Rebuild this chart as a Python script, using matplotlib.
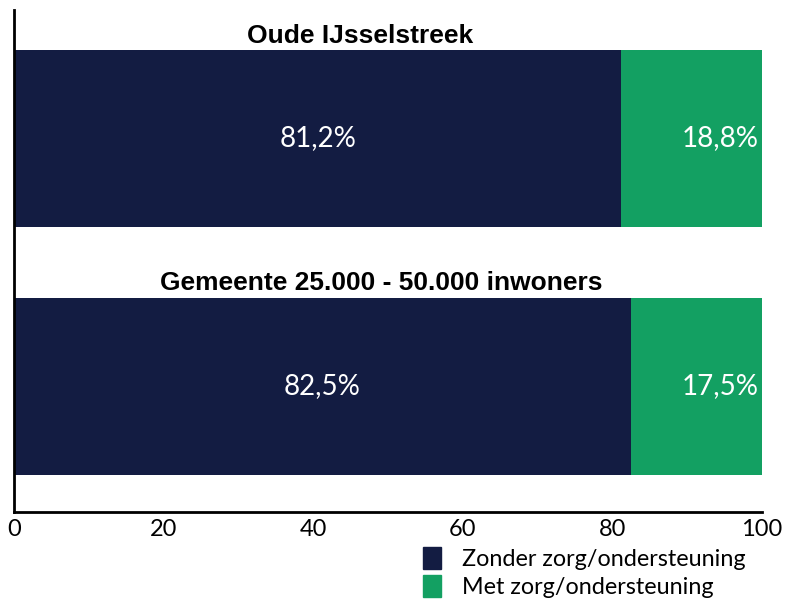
import matplotlib.pyplot as plt
from matplotlib.patches import Patch

# gegevens
groepen = ['Oude IJsselstreek', 'Gemeente 25.000 - 50.000 inwoners']
zonder = [81.2, 82.5]
met = [18.8, 17.5]
reeksen = ['Zonder zorg/ondersteuning', 'Met zorg/ondersteuning']
kleuren = ['#131c42', '#13a062']
xticks = [0, 20, 40, 60, 80, 100]

fig = plt.figure(figsize=(7.86, 6.04), dpi=100)
ax = fig.add_axes([0.0178, 0.1523, 0.9517, 0.8311])

ypos = [1, 0]
hoogte = 0.715
ax.barh(ypos, zonder, height=hoogte, color=kleuren[0])
ax.barh(ypos, met, left=zonder, height=hoogte, color=kleuren[1])

titel_x = [46.3, 49.1]  # titels staan niet precies in het midden
for y, naam, z, m, tx in zip(ypos, groepen, zonder, met, titel_x):
    ax.text(z / 2, y, f'{z:.1f}%'.replace('.', ','), color='white', fontsize=20,
            family='Lato', ha='center', va='center')
    ax.text(99.5, y, f'{m:.1f}%'.replace('.', ','), color='white', fontsize=20,
            family='Lato', ha='right', va='center')
    ax.text(tx, y + 0.415, naam, fontsize=19, fontweight='bold',
            family='Liberation Sans', ha='center', va='center')

ax.set_xlim(0, 100)
ax.set_ylim(-0.509, 1.519)
ax.set_xticks(xticks)
ax.set_xticklabels([str(t) for t in xticks], family='Lato', fontsize=17)
ax.set_yticks([])
ax.tick_params(axis='x', length=0, pad=5)
for s in ['top', 'right']:
    ax.spines[s].set_visible(False)
ax.spines['left'].set_linewidth(2)
ax.spines['bottom'].set_linewidth(2)

handles = [Patch(color=c, label=l) for c, l in zip(kleuren, reeksen)]
fig.legend(handles=handles, loc='upper right', bbox_to_anchor=(0.96, 0.11),
           frameon=False, prop={'family': 'Lato', 'size': 16.8},
           handlelength=0.75, handleheight=1.1, handletextpad=0.9,
           labelspacing=0.2, borderaxespad=0)

fig.savefig('out.png', dpi=100)
